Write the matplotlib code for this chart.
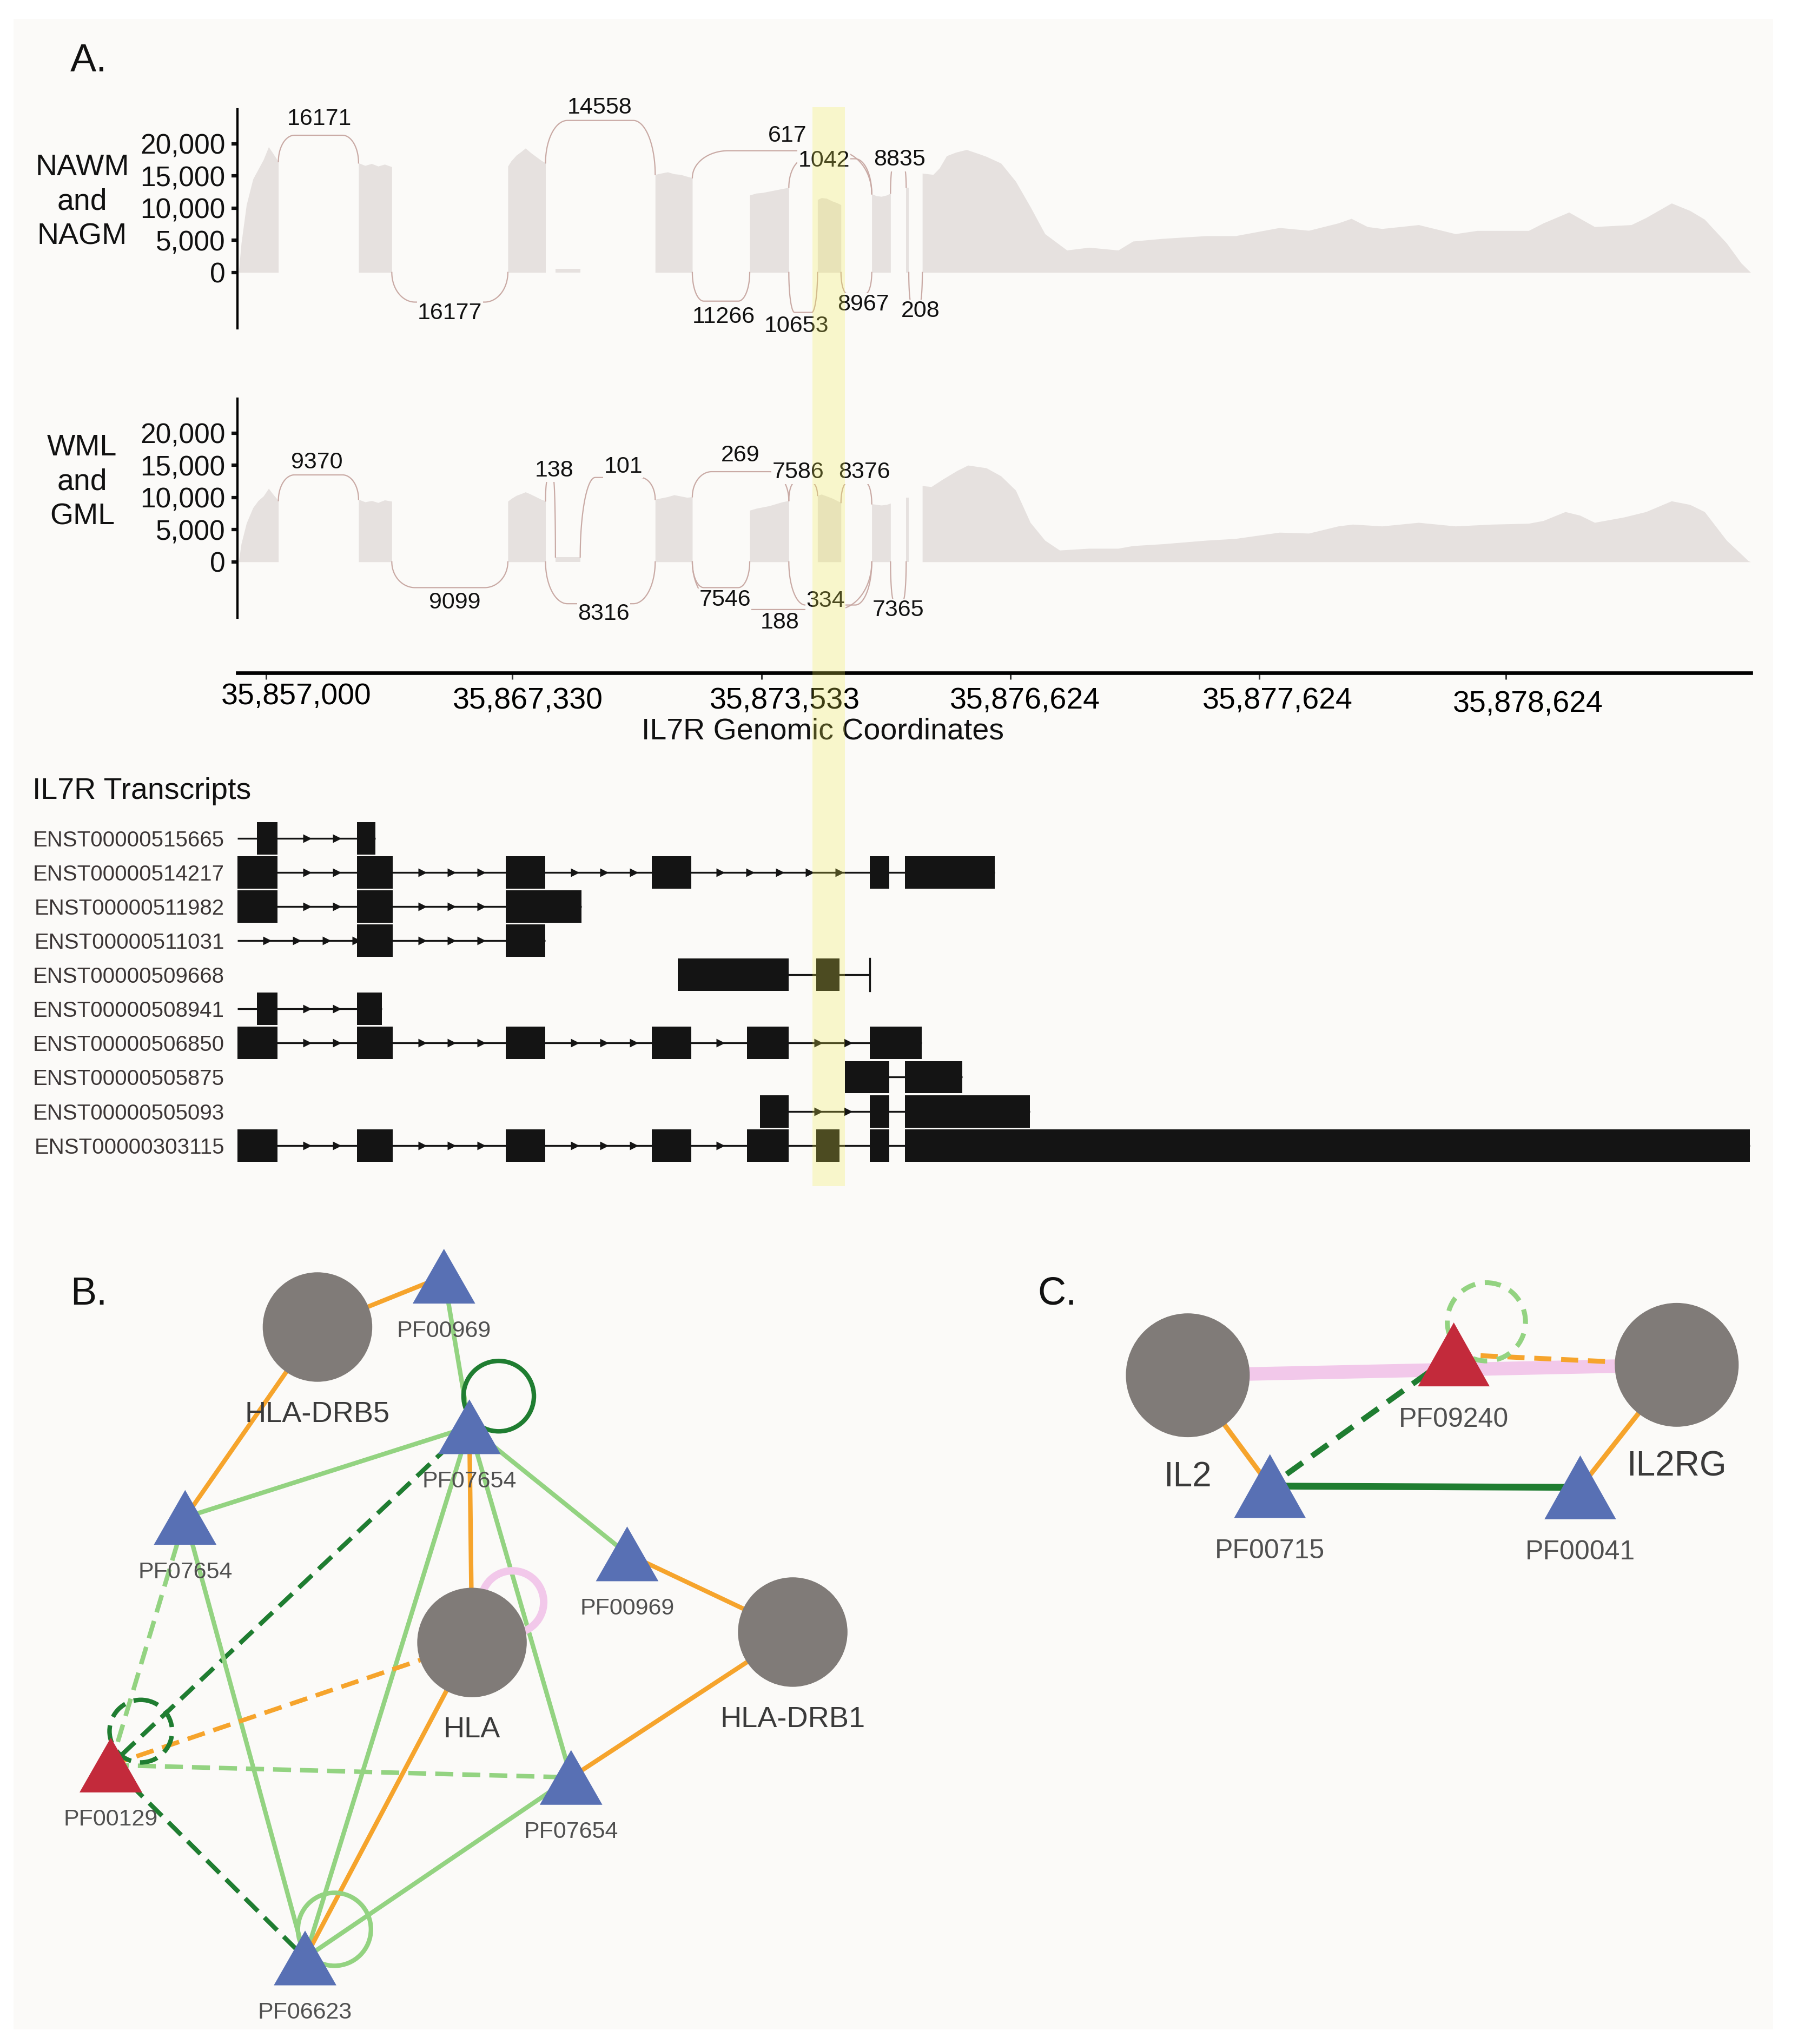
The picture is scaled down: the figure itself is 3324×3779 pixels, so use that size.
import numpy as np
import matplotlib
matplotlib.use('Agg')
import matplotlib.pyplot as plt
from matplotlib.patches import Rectangle, Circle, Polygon
from matplotlib.transforms import ScaledTranslation

plt.rcParams['font.family'] = ['Liberation Sans', 'DejaVu Sans']

# layout is measured on a 1379 x 1568 preview of the 3324 x 3779 figure
W, H = 1379.0, 1568.0
PX = 3324 / W / 100.0          # one preview pixel in inches
BG = '#fbfaf8'
COV = '#e6e1df'
ARC = '#c9aaa5'


def box(x0, y0, x1, y1):
    return [x0 / W, 1 - y1 / H, (x1 - x0) / W, (y1 - y0) / H]


# ---------------- data: coverage (track position, read count) ----------------
nawm_cov = [
    ([183, 185, 189, 194, 198, 202, 206, 209, 213.5], [0, 4500, 10500, 14500, 16000, 17500, 19500, 18600, 17200]),
    ([275, 280, 285, 290, 295, 300.5], [17000, 16600, 16900, 16500, 16800, 16400]),
    ([389.5, 392, 396, 400, 403, 407, 411, 415, 418.4], [16500, 17300, 18200, 18800, 19300, 18600, 18000, 17400, 17000]),
    ([426, 445], [600, 600]),
    ([502.5, 507, 512, 517, 522, 527, 531], [15200, 15400, 15600, 15300, 15200, 14900, 14700]),
    ([575, 580, 585, 590, 595, 600, 605], [12000, 12300, 12400, 12600, 12800, 13000, 13200]),
    ([627, 630, 634, 638, 642, 645], [11300, 11600, 11500, 11100, 10800, 10500]),
    ([668.6, 672, 676, 680, 683], [12200, 11900, 11800, 12000, 12300]),
    ([695, 697], [13200, 13200]),
    ([707.4, 715.7, 720.5, 726, 733, 741.3, 751, 756.5, 767.7, 779, 790.2, 801.4, 818.3, 835.2,
      857.6, 868.9, 891.4, 925.1, 947.6, 981.3, 1003.8, 1026.3, 1036.4, 1048.8, 1060, 1088,
      1116.2, 1133, 1172.4, 1183.6, 1203.3, 1223, 1251.1, 1262.4, 1282, 1296.1, 1307.3, 1324.2,
      1335.4, 1342.7],
     [15400, 15200, 16200, 18100, 18650, 19070, 18400, 18000, 16960, 14140, 10200, 6000, 3460,
      3890, 3460, 4850, 5260, 5690, 5690, 6950, 6520, 7660, 8370, 7100, 6800, 7400, 6000, 6500,
      6500, 7660, 9350, 7100, 7400, 8500, 10760, 9600, 8250, 4560, 1460, 0]),
]

wml_cov = [
    ([183, 185, 189, 194, 198, 202, 206, 209, 213.5], [0, 2800, 6000, 8400, 9500, 10200, 11400, 10600, 9500]),
    ([275, 280, 285, 290, 295, 300.5], [9700, 9300, 9500, 9200, 9600, 9400]),
    ([389.5, 392, 396, 400, 403, 407, 411, 415, 418.4], [9400, 9800, 10300, 10600, 10850, 10500, 10100, 9700, 9450]),
    ([426, 445], [750, 750]),
    ([502.5, 507, 512, 517, 522, 527, 531], [9700, 9900, 10100, 10400, 10200, 10000, 10100]),
    ([575, 580, 585, 590, 595, 600, 605], [8000, 8300, 8500, 8700, 9000, 9300, 9500]),
    ([627, 630, 634, 638, 642, 645], [10300, 10500, 10200, 9900, 9500, 9200]),
    ([668.6, 672, 676, 680, 683], [9000, 8900, 8800, 8900, 9100]),
    ([695, 697], [10000, 10000]),
    ([707.4, 714.3, 722.7, 734, 742.4, 756.5, 767.7, 779, 790.2, 801.4, 812.7, 835.2, 857.6,
      868.9, 891.4, 925.1, 947.6, 981.3, 1003.8, 1026.3, 1037.5, 1060, 1088, 1116.2, 1144.3,
      1172.4, 1183.6, 1200.5, 1211.8, 1223, 1245.5, 1262.4, 1282, 1296.1, 1307.3, 1324.2, 1341,
      1342.7],
     [11810, 11670, 12780, 14160, 15000, 14580, 13330, 11110, 6110, 3340, 1810, 2090, 2090, 2500,
      2780, 3340, 3610, 4580, 4440, 5550, 5830, 5550, 6110, 5550, 5830, 5970, 6390, 7780, 7220,
      6110, 6940, 7780, 9450, 8890, 7780, 3340, 140, 0]),
]

# junctions: (from, to, arc extreme, count label, label position, label height)
nawm_junc = [
    (213.5, 275, 21300, '16171', 245, 23800),
    (300.5, 389.5, -4600, '16177', 345, -6300),
    (418.4, 502.5, 23600, '14558', 460, 25600),
    (531, 668.6, 18900, '617', 604, 21200),
    (531, 575, -4450, '11266', 555, -6900),
    (605, 627, -6200, '10653', 611, -8300),
    (605, 668.6, 17650, '1042', 632, 17400),
    (645, 668.6, -3300, '8967', 662, -5000),
    (683, 695, 17000, '8835', 690, 17500),
    (697, 707.4, -5000, '208', 706, -6000),
]
wml_junc = [
    (213.5, 275, 13500, '9370', 243, 15400),
    (300.5, 389.5, -4000, '9099', 349, -6300),
    (418.4, 426, 12800, '138', 425, 14200),
    (445, 502.5, 13100, '101', 478, 14800),
    (418.4, 502.5, -6500, '8316', 463, -8100),
    (531, 605, 14000, '269', 568, 16500),
    (531, 575, -4000, '7546', 556, -5900),
    (605, 627, 12300, '7586', 612, 13900),
    (645, 668.6, 12300, '8376', 663, 13900),
    (531, 668.6, -7400, '188', 598, -9400),
    (605, 668.6, -6700, '334', 633, -6100),
    (683, 695, -6000, '7365', 689, -7500),
]

y_ticks = [0, 5000, 10000, 15000, 20000]
y_tick_labels = ['0', '5,000', '10,000', '15,000', '20,000']

coord_ticks = [204, 393, 584, 775, 966, 1155]
coord_labels = ['35,857,000', '35,867,330', '35,873,533', '35,876,624', '35,877,624', '35,878,624']
coord_label_shift = [(23, 0), (12, 3), (18, 3), (11, 3), (14, 3), (17, 5.5)]

highlight = (623, 648)

transcripts = ['ENST00000515665', 'ENST00000514217', 'ENST00000511982', 'ENST00000511031',
               'ENST00000509668', 'ENST00000508941', 'ENST00000506850', 'ENST00000505875',
               'ENST00000505093', 'ENST00000303115']
tx_span = [(182, 288), (182, 763), (182, 446), (182, 418), (520, 667),
           (182, 293), (182, 707), (648, 738), (583, 790), (182, 1342)]
tx_exons = [
    [(197, 213), (274, 288)],
    [(182, 213), (274, 301), (388, 418), (500, 530), (667, 682), (694, 763)],
    [(182, 213), (274, 301), (388, 446)],
    [(274, 301), (388, 418)],
    [(520, 605), (626, 644)],
    [(197, 213), (274, 293)],
    [(182, 213), (274, 301), (388, 418), (500, 530), (573, 605), (667, 707)],
    [(648, 682), (694, 738)],
    [(583, 605), (667, 682), (694, 790)],
    [(182, 213), (274, 301), (388, 418), (500, 530), (573, 605), (626, 644), (667, 682), (694, 1342)],
]

# ---------------- data: networks ----------------
net_b_nodes = [
    ('drb5', 'HLA-DRB5', 'gene', 243.5, 1018),
    ('pf969a', 'PF00969', 'blue', 340.5, 979),
    ('pf7654a', 'PF07654', 'blue', 360, 1094.5),
    ('pf7654b', 'PF07654', 'blue', 142, 1164),
    ('pf969b', 'PF00969', 'blue', 481, 1192),
    ('hla', 'HLA', 'gene', 362, 1260),
    ('drb1', 'HLA-DRB1', 'gene', 608, 1252),
    ('pf129', 'PF00129', 'red', 85, 1354),
    ('pf7654c', 'PF07654', 'blue', 438, 1363.5),
    ('pf6623', 'PF06623', 'blue', 234, 1502),
]
net_b_edges = [
    ('drb5', 'pf969a', 'orange', '-'), ('drb5', 'pf7654b', 'orange', '-'),
    ('pf969a', 'pf7654a', 'lgreen', '-'), ('pf7654a', 'pf7654b', 'lgreen', '-'),
    ('pf7654a', 'pf969b', 'lgreen', '-'), ('pf7654a', 'hla', 'orange', '-'),
    ('pf7654a', 'pf6623', 'lgreen', '-'), ('pf7654a', 'pf7654c', 'lgreen', '-'),
    ('pf7654a', 'pf129', 'dgreen', '--'), ('pf7654b', 'pf129', 'lgreen', '--'),
    ('pf7654b', 'pf6623', 'lgreen', '-'), ('pf129', 'hla', 'orange', '--'),
    ('pf129', 'pf7654c', 'lgreen', '--'), ('pf129', 'pf6623', 'dgreen', '--'),
    ('hla', 'pf6623', 'orange', '-'), ('pf969b', 'drb1', 'orange', '-'),
    ('drb1', 'pf7654c', 'orange', '-'), ('pf7654c', 'pf6623', 'lgreen', '-'),
]
net_b_loops = [('pf7654a', 22.5, -23.5, 27, 'dgreen', '-'), ('hla', 31, -31, 24, 'pink', '-'),
               ('pf129', 23, -26, 24, 'dgreen', '--'), ('pf6623', 22.5, -22, 28, 'lgreen', '-')]

net_c_nodes = [
    ('il2', 'IL2', 'gene', 911, 1055),
    ('il2rg', 'IL2RG', 'gene', 1286, 1047),
    ('pf9240', 'PF09240', 'red', 1115, 1039),
    ('pf715', 'PF00715', 'blue', 974, 1140),
    ('pf41', 'PF00041', 'blue', 1212, 1141),
]
net_c_edges = [
    ('il2', 'il2rg', 'pink', '-'), ('pf9240', 'il2rg', 'orange', '--'),
    ('pf9240', 'pf715', 'dgreen', '--'), ('pf715', 'pf41', 'dgreen', '-'),
    ('il2', 'pf715', 'orange', '-'), ('il2rg', 'pf41', 'orange', '-'),
]
net_c_loops = [('pf9240', 25, -25, 30, 'lgreen', '--')]

EDGE_COL = {'orange': '#f6a42c', 'lgreen': '#93d381', 'dgreen': '#1f7d31', 'pink': '#f2c8ea'}
NODE_COL = {'gene': '#807b78', 'blue': '#5870b4', 'red': '#c32a3b'}

# ---------------- figure ----------------
fig = plt.figure(figsize=(33.24, 37.79), dpi=100, facecolor='white')
fig.patches.append(Rectangle((25 / 3324, 1 - 3752 / 3779), 3253 / 3324, 3717 / 3779,
                             transform=fig.transFigure, fc=BG, ec='none', zorder=-5))


def seg_value(segs, x):
    for xs, ys in segs:
        if xs[0] - 0.6 <= x <= xs[-1] + 0.6:
            return np.interp(x, xs, ys)
    return 0.0


def arc_xy(x1, x2, y1, y2, h, frac=0.2):
    rx = frac * (x2 - x1)
    t = np.linspace(0, np.pi / 2, 40)
    lx = x1 + rx * (1 - np.cos(t))
    ly = y1 + (h - y1) * np.sin(t)
    tr = t[::-1]
    rxx = x2 - rx * (1 - np.cos(tr))
    ryy = y2 + (h - y2) * np.sin(tr)
    return np.r_[lx, rxx], np.r_[ly, ryy]


def sashimi(rect, segs, juncs, label, label_y):
    ax = fig.add_axes(box(*rect))
    ax.patch.set_alpha(0)
    for xs, ys in segs:
        ax.fill_between(xs, 0, ys, color=COV, lw=0, zorder=1)
    for x1, x2, h, txt, lx, ly in juncs:
        if h > 0:
            y1, y2 = seg_value(segs, x1), seg_value(segs, x2)
        else:
            y1 = y2 = 0
        ax_, ay_ = arc_xy(x1, x2, y1, y2, h)
        ax.plot(ax_, ay_, color=ARC, lw=1.6, zorder=2)
        ax.text(lx, ly, txt, ha='center', va='center', fontsize=31, color='#111111', zorder=4,
                bbox=dict(fc=BG, ec='none', pad=0.8), clip_on=False)
    ax.set_xlim(182, 1343)
    ax.set_ylim(-8700, 25300)
    for s in ['top', 'right', 'bottom']:
        ax.spines[s].set_visible(False)
    ax.spines['left'].set_linewidth(3)
    ax.set_xticks([])
    ax.set_yticks(y_ticks, y_tick_labels)
    ax.tick_params(axis='y', length=8, width=4.5, pad=8, labelsize=37, colors='#111111')
    fig.text(63 / W, 1 - label_y / H, label, ha='center', va='center',
             fontsize=40, linespacing=1.3, color='#111111')
    return ax


fig.text(68 / W, 1 - 47 / H, 'A.', ha='center', va='center', fontsize=52, color='#111111')
sashimi((182, 84, 1343, 252), nawm_cov, nawm_junc, 'NAWM\nand\nNAGM', 155)
sashimi((182, 306, 1343, 474), wml_cov, wml_junc, 'WML\nand\nGML', 370)

# genomic coordinate axis
axc = fig.add_axes(box(182, 496, 1343, 516))
axc.patch.set_alpha(0)
axc.set_xlim(182, 1343)
axc.set_ylim(0, 1)
for s in ['top', 'right', 'left']:
    axc.spines[s].set_visible(False)
axc.spines['bottom'].set_linewidth(4.8)
axc.set_yticks([])
axc.set_xticks(coord_ticks, coord_labels)
axc.tick_params(axis='x', length=8.5, width=2.2, color='#333333', pad=5, labelsize=40)
for lbl, (dx, dy) in zip(axc.get_xticklabels(), coord_label_shift):
    lbl.set_transform(lbl.get_transform() + ScaledTranslation(dx * PX, -dy * PX, fig.dpi_scale_trans))
fig.text(631 / W, 1 - 561 / H, 'IL7R Genomic Coordinates', ha='center', va='center',
         fontsize=40, color='#111111')

# transcripts
fig.text(25 / W, 1 - 607 / H, 'IL7R Transcripts', ha='left', va='center', fontsize=40, color='#111111')
axt = fig.add_axes(box(182, 625, 1343, 897))
axt.patch.set_alpha(0)
axt.set_xlim(182, 1343)
axt.set_ylim(9.7, -0.69)
for s in axt.spines.values():
    s.set_visible(False)
axt.set_xticks([])
axt.set_yticks(range(len(transcripts)), transcripts)
axt.tick_params(axis='y', length=0, pad=17, labelsize=29, labelcolor='#3b3535')
ex_h = 0.95
for i, (span, exons) in enumerate(zip(tx_span, tx_exons)):
    axt.plot(span, [i, i], color='#141414', lw=2.4, solid_capstyle='butt', zorder=1)
    for a, b in exons:
        axt.add_patch(Rectangle((a, i - ex_h / 2), b - a, ex_h, fc='#141414', ec='none', zorder=2))
    # direction arrows on introns
    gaps = []
    cur = span[0]
    for a, b in sorted(exons):
        if a > cur:
            gaps.append((cur, a))
        cur = max(cur, b)
    if span[1] > cur:
        gaps.append((cur, span[1]))
    for g0, g1 in gaps:
        pos = g0 + 22.8
        xs = []
        while pos <= g1 - 0.5:
            xs.append(pos)
            pos += 22.8
        if xs and i != 4:
            axt.plot(xs, [i] * len(xs), ls='none', marker='>', ms=11, color='#141414', mec='none', zorder=3)
axt.plot([667, 667], [4 - ex_h / 2, 4 + ex_h / 2], color='#141414', lw=2.4)

# highlight band across panel A
axh = fig.add_axes(box(182, 82, 1343, 910), zorder=10)
axh.patch.set_alpha(0)
axh.axis('off')
axh.set_xlim(182, 1343)
axh.axvspan(*highlight, color='#f0ec4a', alpha=0.26, lw=0)

# networks B and C, drawn in preview pixel coordinates
axn = fig.add_axes([0, 0, 1, 1], zorder=5)
axn.patch.set_alpha(0)
axn.axis('off')
axn.set_xlim(0, W)
axn.set_ylim(H, 0)


def network(nodes, edges, loops, sizes):
    pos = {n[0]: (n[3], n[4]) for n in nodes}
    for a, b, col, ls in edges:
        (x0, y0), (x1, y1) = pos[a], pos[b]
        lw = sizes['lw'].get((col, ls), sizes['lw_default'])
        kw = dict(dashes=sizes['dash']) if ls == '--' else {}
        axn.plot([x0, x1], [y0, y1], color=EDGE_COL[col], lw=lw, ls=ls,
                 solid_capstyle='butt', dash_capstyle='butt', zorder=1, **kw)
    for n, dx, dy, r, col, ls in loops:
        x, y = pos[n]
        lw = sizes['loop_lw'].get(col, sizes['lw_default'])
        c = Circle((x + dx, y + dy), r, fill=False, ec=EDGE_COL[col], lw=lw, zorder=1.5)
        if ls == '--':
            c.set_linestyle((0, sizes['loop_dash']))
        axn.add_patch(c)
    for key, label, kind, x, y in nodes:
        if kind == 'gene':
            r = sizes['r']
            axn.add_patch(Circle((x, y), r, fc=NODE_COL[kind], ec='none', zorder=3))
            axn.text(x, y + sizes['gene_off'], label, ha='center', va='center',
                     fontsize=sizes['gene_fs'], color='#3a3a3a', zorder=4)
        else:
            w, h = sizes['tri']
            axn.add_patch(Polygon([(x - w / 2, y + h / 2), (x + w / 2, y + h / 2), (x, y - h / 2)],
                                  closed=True, fc=NODE_COL[kind], ec='none', zorder=3))
            axn.text(x, y + sizes['pf_off'], label, ha='center', va='center',
                     fontsize=sizes['pf_fs'], color='#505050', zorder=4)


network(net_b_nodes, net_b_edges, net_b_loops,
        dict(lw={}, lw_default=6, dash=(4, 2), loop_lw={'pink': 10}, loop_dash=(4, 2),
             r=42, tri=(48, 42), gene_off=67, pf_off=42, gene_fs=39, pf_fs=31))
network(net_c_nodes, net_c_edges, net_c_loops,
        dict(lw={('pink', '-'): 18, ('dgreen', '-'): 9, ('dgreen', '--'): 7.5, ('orange', '--'): 6.5,
                 ('orange', '-'): 6.5},
             lw_default=6.5, dash=(3.5, 2), loop_lw={'lgreen': 6.5}, loop_dash=(3, 2),
             r=47.5, tri=(55, 49), gene_off=78, pf_off=50, gene_fs=46, pf_fs=36))

fig.text(68 / W, 1 - 993 / H, 'B.', ha='center', va='center', fontsize=52, color='#111111')
fig.text(811 / W, 1 - 993 / H, 'C.', ha='center', va='center', fontsize=52, color='#111111')

fig.savefig('out.png', dpi=100, facecolor='white')
